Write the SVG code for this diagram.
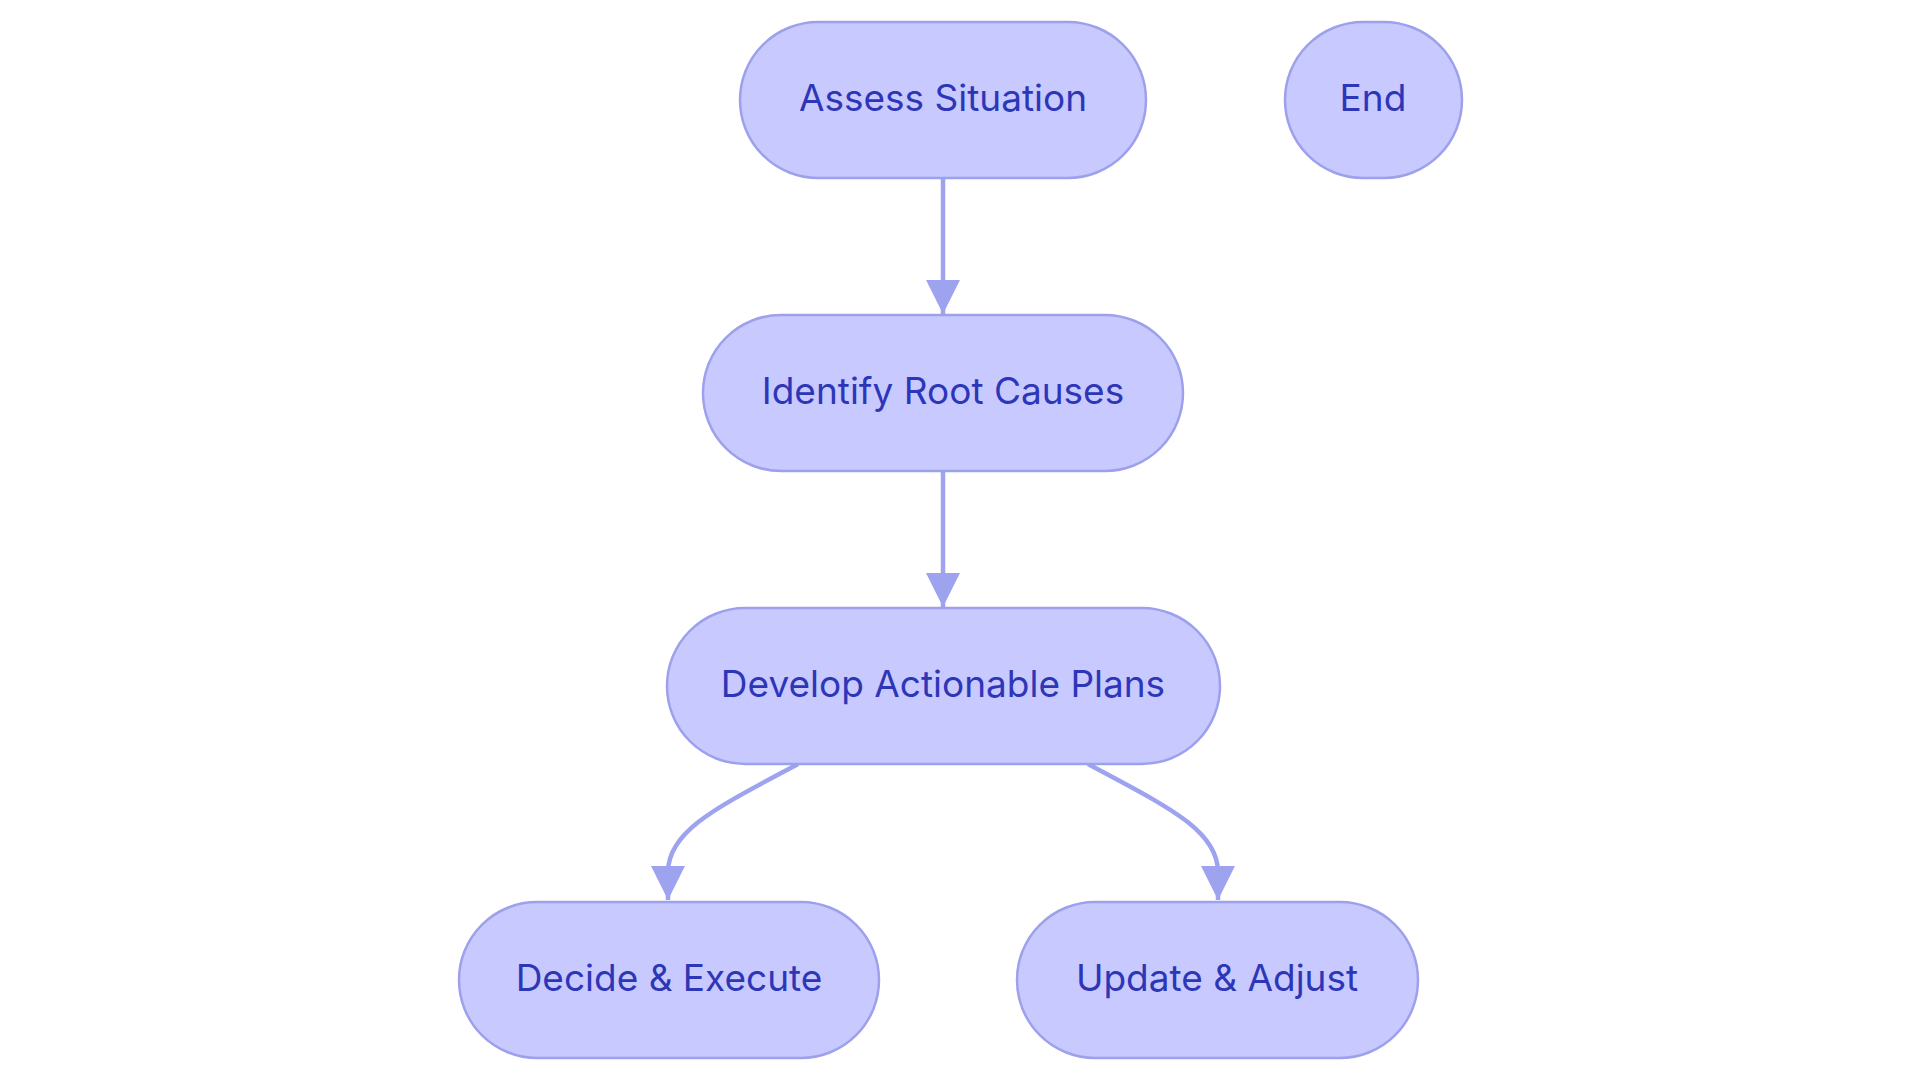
<svg xmlns="http://www.w3.org/2000/svg" width="1920" height="1083" viewBox="0 0 1920 1083">
<style>
.node rect{fill:#c8caff;stroke:#9da1ec;stroke-width:2.5}
.node text{font-family:Inter,"Open Sans","Liberation Sans",sans-serif;font-size:37px;fill:#2e36b8;text-anchor:middle;dominant-baseline:central}
.edge{fill:none;stroke:#9ea3f0;stroke-width:4.5}
</style>
<defs>
<marker id="arrow" markerUnits="userSpaceOnUse" viewBox="0 0 34 34" refX="34" refY="17" markerWidth="34" markerHeight="34" orient="auto">
<path d="M0,0 L34,17 L0,34 Z" fill="#9ea3f0"/>
</marker>
</defs>
<rect width="1920" height="1083" fill="#ffffff"/>
<g id="edges">
<path class="edge" d="M943,178 L943,314" marker-end="url(#arrow)"/>
<path class="edge" d="M943,471 L943,607" marker-end="url(#arrow)"/>
<path class="edge" d="M798,764 C720,806 668,830 668,872 L668,900" marker-end="url(#arrow)"/>
<path class="edge" d="M1088,764 C1166,806 1218,830 1218,872 L1218,900" marker-end="url(#arrow)"/>
</g>
<g id="assess" class="node"><rect x="740" y="22" width="406" height="156" rx="78" ry="78"/><text x="943" y="97">Assess Situation</text></g>
<g id="end" class="node"><rect x="1285" y="22" width="177" height="156" rx="78" ry="78"/><text x="1373" y="97">End</text></g>
<g id="identify" class="node"><rect x="703" y="315" width="480" height="156" rx="78" ry="78"/><text x="943" y="390">Identify Root Causes</text></g>
<g id="develop" class="node"><rect x="667" y="608" width="553" height="156" rx="78" ry="78"/><text x="943" y="683">Develop Actionable Plans</text></g>
<g id="decide" class="node"><rect x="459" y="902" width="420" height="156" rx="78" ry="78"/><text x="669" y="977">Decide &amp; Execute</text></g>
<g id="update" class="node"><rect x="1017" y="902" width="401" height="156" rx="78" ry="78"/><text x="1217" y="977">Update &amp; Adjust</text></g>
</svg>
